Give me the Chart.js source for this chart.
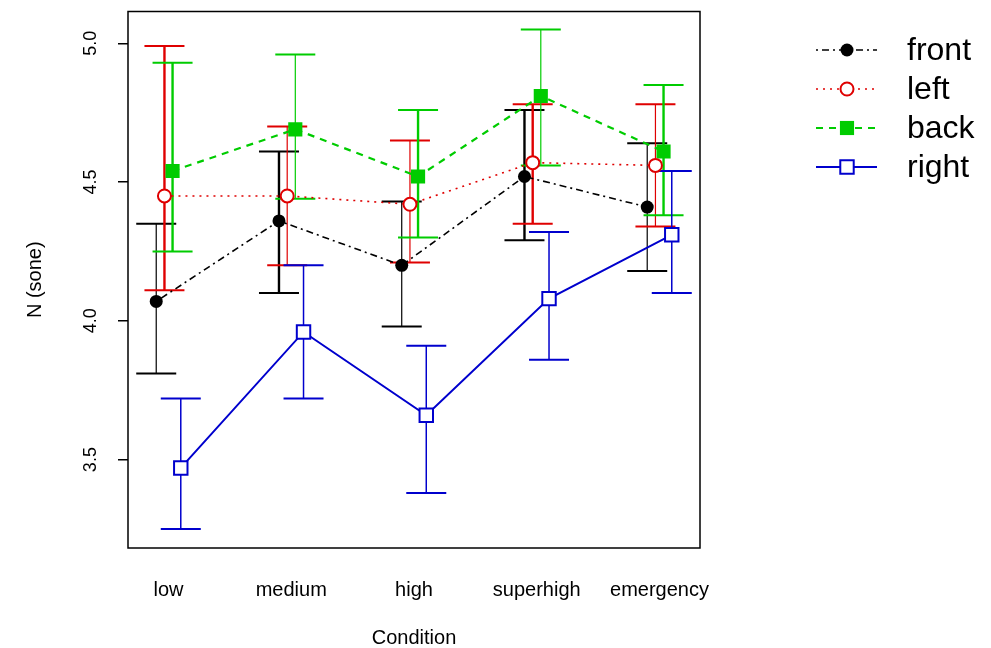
<!DOCTYPE html>
<html>
<head>
<meta charset="utf-8">
<script src="https://cdn.jsdelivr.net/npm/chart.js@4/dist/chart.umd.min.js"></script>
<style>
  body { margin: 0; background: #fff; }
  canvas { display: block; }
</style>
</head>
<body>
<canvas id="chart" width="991" height="648"></canvas>
<script>
// Loudness per condition, four listening positions (means + error bar ends)
const categories = ['low', 'medium', 'high', 'superhigh', 'emergency'];

const frontMean = [4.07, 4.36, 4.20, 4.52, 4.41];
const frontLo   = [3.81, 4.10, 3.98, 4.29, 4.18];
const frontHi   = [4.35, 4.61, 4.43, 4.76, 4.64];

const leftMean = [4.45, 4.45, 4.42, 4.57, 4.56];
const leftLo   = [4.11, 4.20, 4.21, 4.35, 4.34];
const leftHi   = [4.99, 4.70, 4.65, 4.78, 4.78];

const backMean = [4.54, 4.69, 4.52, 4.81, 4.61];
const backLo   = [4.25, 4.44, 4.30, 4.56, 4.38];
const backHi   = [4.93, 4.96, 4.76, 5.05, 4.85];

const rightMean = [3.47, 3.96, 3.66, 4.08, 4.31];
const rightLo   = [3.25, 3.72, 3.38, 3.86, 4.10];
const rightHi   = [3.72, 4.20, 3.91, 4.32, 4.54];

const yTicks = [3.5, 4.0, 4.5, 5.0];

const FONT = '"Liberation Sans", Arial, Helvetica, sans-serif';

// --- series styling (dodge offset on the x axis, line + marker look) ---
const series = [
    { label: 'front', mean: frontMean, lo: frontLo, hi: frontHi, dx: -0.1,
      color: '#000000', dash: [2, 4, 7, 4], lineWidth: 1.6,
      pointStyle: 'circle', radius: 6.5, fill: '#000000', pointBorder: 0,
      barWidths: [1.2, 2.4, 1.2, 2.4, 1.2] },
    { label: 'left', mean: leftMean, lo: leftLo, hi: leftHi, dx: -0.033,
      color: '#DF0000', dash: [2, 5], lineWidth: 1.6,
      pointStyle: 'circle', radius: 6.5, fill: '#ffffff', pointBorder: 2,
      barWidths: [2.4, 1.2, 1.2, 2.4, 1.2] },
    { label: 'back', mean: backMean, lo: backLo, hi: backHi, dx: 0.033,
      color: '#00CC00', dash: [7, 6], lineWidth: 2.2,
      pointStyle: 'rect', radius: 10, fill: '#00CC00', pointBorder: 0,
      barWidths: [2.4, 1.2, 2.4, 1.2, 2.4] },
    { label: 'right', mean: rightMean, lo: rightLo, hi: rightHi, dx: 0.1,
      color: '#0000CD', dash: [], lineWidth: 2,
      pointStyle: 'rect', radius: 9.5, fill: '#ffffff', pointBorder: 2,
      barWidths: [1.5, 1.5, 1.5, 1.5, 1.5] }
];

const datasets = series.map(s => ({
    label: s.label,
    data: s.mean.map((v, i) => ({ x: i + 1 + s.dx, y: v })),
    showLine: true,
    borderColor: s.color,
    borderWidth: s.lineWidth,
    borderDash: s.dash,
    pointStyle: s.pointStyle,
    pointRadius: s.radius,
    pointBackgroundColor: s.fill,
    pointBorderColor: s.color,
    pointBorderWidth: s.pointBorder,
    pointHoverRadius: s.radius
}));

// error bars, drawn under the lines/markers
const errorBars = {
    id: 'errorBars',
    beforeDatasetsDraw(chart) {
        const { ctx, scales: { x, y } } = chart;
        const cap = 20;
        ctx.save();
        series.forEach(s => {
            ctx.strokeStyle = s.color;
            s.mean.forEach((v, i) => {
                const px = x.getPixelForValue(i + 1 + s.dx);
                const top = y.getPixelForValue(s.hi[i]);
                const bot = y.getPixelForValue(s.lo[i]);
                ctx.lineWidth = s.barWidths[i];
                ctx.beginPath();
                ctx.moveTo(px, top); ctx.lineTo(px, bot);
                ctx.stroke();
                ctx.lineWidth = 2;
                ctx.beginPath();
                ctx.moveTo(px - cap, top); ctx.lineTo(px + cap, top);
                ctx.moveTo(px - cap, bot); ctx.lineTo(px + cap, bot);
                ctx.stroke();
            });
        });
        ctx.restore();
    }
};

// full box round the plot region + legend on the right
const boxAndLegend = {
    id: 'boxAndLegend',
    afterDraw(chart) {
        const { ctx, chartArea: a } = chart;
        ctx.save();
        ctx.strokeStyle = '#000';
        ctx.lineWidth = 1.5;
        ctx.strokeRect(a.left, a.top, a.right - a.left, a.bottom - a.top);

        const lx0 = 816, lx1 = 877, mx = 847, tx = 907;
        const rows = [50, 89, 128, 167];
        series.forEach((s, k) => {
            const yy = rows[k];
            ctx.strokeStyle = s.color;
            ctx.lineWidth = s.lineWidth;
            ctx.setLineDash(s.dash);
            ctx.beginPath();
            ctx.moveTo(lx0, yy); ctx.lineTo(lx1, yy);
            ctx.stroke();
            ctx.setLineDash([]);
            ctx.fillStyle = s.fill;
            ctx.strokeStyle = s.color;
            ctx.lineWidth = s.pointBorder;
            Chart.helpers.drawPoint(ctx, {
                pointStyle: s.pointStyle, radius: s.radius, rotation: 0,
                borderWidth: s.pointBorder
            }, mx, yy);
            ctx.fillStyle = '#000';
            ctx.font = '32px ' + FONT;
            ctx.textAlign = 'left';
            ctx.textBaseline = 'middle';
            ctx.fillText(s.label, tx, yy + 1);
        });
        ctx.restore();
    }
};

new Chart(document.getElementById('chart'), {
    type: 'scatter',
    data: { datasets },
    options: {
        responsive: false,
        animation: false,
        layout: { padding: { top: 8, right: 291, left: 0, bottom: 0 } },
        plugins: { legend: { display: false }, tooltip: { enabled: false } },
        scales: {
            x: {
                type: 'linear', min: 0.67, max: 5.33,
                afterBuildTicks: s => { s.ticks = categories.map((c, i) => ({ value: i + 1 })); },
                afterFit: s => { s.height = 100; s.paddingLeft = 0; s.paddingRight = 0; },
                grid: { display: false, drawTicks: false },
                border: { display: false },
                ticks: {
                    autoSkip: false, maxRotation: 0, padding: 30, color: '#000',
                    font: { family: FONT, size: 20 },
                    callback: v => categories[Math.round(v) - 1]
                },
                title: {
                    display: true, text: 'Condition', color: '#000',
                    font: { family: FONT, size: 20, lineHeight: 1 },
                    padding: { top: 1, bottom: 0 }
                }
            },
            y: {
                type: 'linear', min: 3.1816, max: 5.1145,
                afterBuildTicks: s => { s.ticks = yTicks.map(v => ({ value: v })); },
                afterFit: s => { s.width = 128; s.paddingTop = 0; s.paddingBottom = 0; },
                grid: { drawOnChartArea: false, drawTicks: true, tickLength: 10, color: '#000', lineWidth: 1.5 },
                border: { display: false },
                ticks: {
                    minRotation: 90, maxRotation: 90, crossAlign: 'center', padding: 14,
                    color: '#000', font: { family: FONT, size: 18 },
                    callback: v => v.toFixed(1)
                },
                title: {
                    display: true, text: 'N (sone)', color: '#000',
                    font: { family: FONT, size: 20 },
                    padding: { top: 23, bottom: 0 }
                }
            }
        }
    },
    plugins: [errorBars, boxAndLegend]
});
</script>
</body>
</html>
